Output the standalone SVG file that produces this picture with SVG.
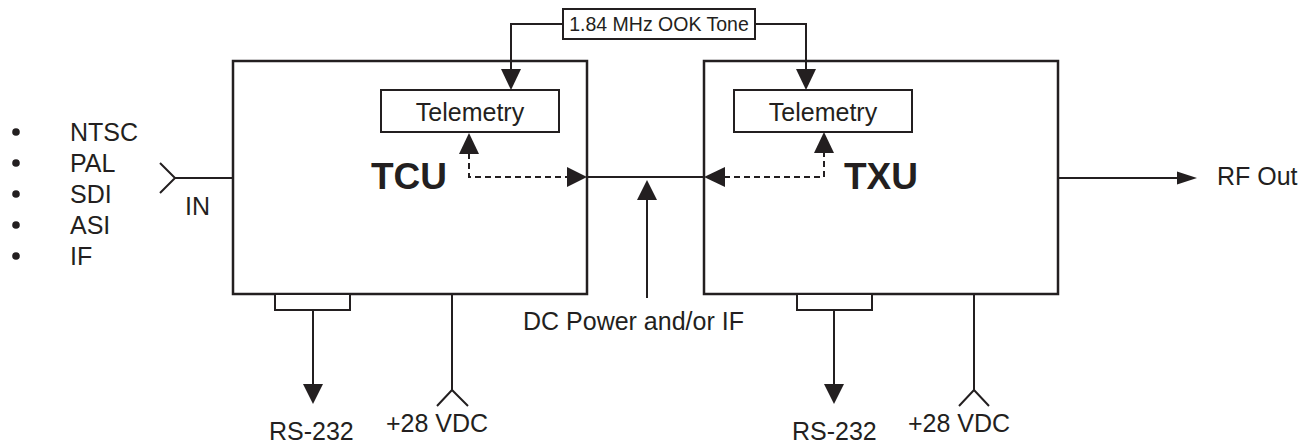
<svg xmlns="http://www.w3.org/2000/svg" width="1304" height="446" viewBox="0 0 1304 446">
<style>
.box{fill:#fff;stroke:#231f20;stroke-width:2.5}
.tbox{fill:#fff;stroke:#231f20;stroke-width:2}
.ln{fill:none;stroke:#231f20;stroke-width:2}
.dash{fill:none;stroke:#231f20;stroke-width:2;stroke-dasharray:6 4}
.ah{fill:#231f20;stroke:none}
.t{font-family:"Liberation Sans",Arial,sans-serif;font-size:25px;fill:#231f20}
.b{font-family:"Liberation Sans",Arial,sans-serif;font-size:37px;font-weight:bold;fill:#231f20}
.s{font-family:"Liberation Sans",Arial,sans-serif;font-size:19.5px;fill:#231f20}
</style>
<rect width="1304" height="446" fill="#fff"/>
<g id="inputs">
<circle cx="16" cy="132" r="3.8" class="ah"/>
<circle cx="16" cy="163" r="3.8" class="ah"/>
<circle cx="16" cy="194" r="3.8" class="ah"/>
<circle cx="16" cy="225" r="3.8" class="ah"/>
<circle cx="16" cy="256" r="3.8" class="ah"/>
<text class="t" x="70" y="141">NTSC</text>
<text class="t" x="70" y="172">PAL</text>
<text class="t" x="70" y="203">SDI</text>
<text class="t" x="70" y="234">ASI</text>
<text class="t" x="70" y="265">IF</text>
</g>
<g id="tcu">
<rect class="box" x="233" y="61" width="354" height="233"/>
<text class="b" x="371" y="189">TCU</text>
</g>
<g id="tcu-telemetry">
<rect class="tbox" x="381" y="90" width="178" height="42"/>
<text class="t" x="470" y="121" text-anchor="middle">Telemetry</text>
</g>
<g id="txu">
<rect class="box" x="704" y="61" width="354" height="233"/>
<text class="b" x="844" y="189">TXU</text>
</g>
<g id="txu-telemetry">
<rect class="tbox" x="734" y="90" width="178" height="42"/>
<text class="t" x="823" y="121" text-anchor="middle">Telemetry</text>
</g>
<g id="tone">
<rect class="tbox" x="563" y="9" width="192" height="30"/>
<text class="s" x="659" y="31" text-anchor="middle">1.84 MHz OOK Tone</text>
</g>
<g id="tcu-ports">
<rect class="tbox" x="275" y="294" width="75" height="16"/>
</g>
<g id="txu-ports">
<rect class="tbox" x="797" y="294" width="75" height="16"/>
</g>
<g id="connectors">
<!-- tone lines -->
<polyline class="ln" points="563,24 511,24 511,70"/>
<polygon class="ah" points="501,69 521,69 511,90"/>
<polyline class="ln" points="755,24 806,24 806,70"/>
<polygon class="ah" points="796,69 816,69 806,90"/>
<!-- TCU dashed -->
<polyline class="dash" points="469,153 469,177 568,177"/>
<polygon class="ah" points="459,154 479,154 469,133"/>
<polygon class="ah" points="567,167 567,187 587,177"/>
<!-- TXU dashed -->
<polyline class="dash" points="724,177 824,177 824,153"/>
<polygon class="ah" points="814,153 834,153 824,132"/>
<polygon class="ah" points="725,167 725,187 704,177"/>
<!-- link -->
<line class="ln" x1="587" y1="177" x2="704" y2="177"/>
<line class="ln" x1="647" y1="298" x2="647" y2="199"/>
<polygon class="ah" points="637,200 657,200 647,180"/>
<!-- IN -->
<polyline class="ln" points="160,163 175,178 160,193"/>
<line class="ln" x1="175" y1="178" x2="233" y2="178"/>
<!-- RF out -->
<line class="ln" x1="1058" y1="178" x2="1180" y2="178"/>
<polygon class="ah" points="1177,171.5 1177,184.5 1197,178"/>
<!-- TCU bottom -->
<line class="ln" x1="313" y1="310" x2="313" y2="386"/>
<polygon class="ah" points="303,384 323,384 313,404"/>
<line class="ln" x1="452" y1="294" x2="452" y2="390"/>
<polyline class="ln" points="437,406 452,390 468,406"/>
<!-- TXU bottom -->
<line class="ln" x1="834" y1="310" x2="834" y2="386"/>
<polygon class="ah" points="824,384 844,384 834,404"/>
<line class="ln" x1="974" y1="294" x2="974" y2="390"/>
<polyline class="ln" points="959,406 974,390 989,406"/>
</g>
<g id="labels">
<text class="t" x="185" y="215">IN</text>
<text class="t" x="1217" y="185">RF Out</text>
<text class="t" x="523" y="330">DC Power and/or IF</text>
<text class="t" x="269" y="440">RS-232</text>
<text class="t" x="386" y="432">+28 VDC</text>
<text class="t" x="792" y="440">RS-232</text>
<text class="t" x="908" y="432">+28 VDC</text>
</g>
</svg>
